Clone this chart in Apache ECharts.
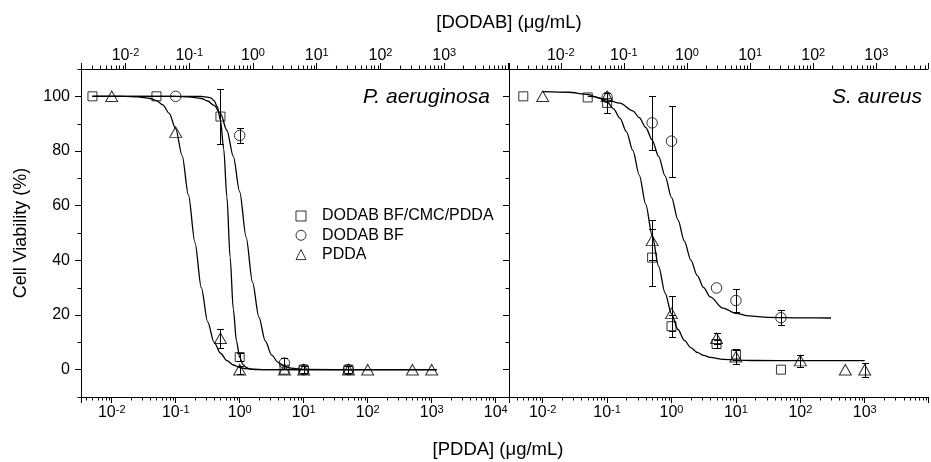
<!DOCTYPE html>
<html>
<head>
<meta charset="utf-8">
<script src="https://cdn.jsdelivr.net/npm/echarts@6/dist/echarts.min.js"></script>
<style>
  html, body { margin: 0; padding: 0; background: #fff; }
  #chart { width: 931px; height: 462px; }
</style>
</head>
<body>
<div id="chart"></div>
<script>
// ---------------- Data (concentrations in µg/mL of PDDA, viability in %) ----------------
// P. aeruginosa
const paMixX   = [0.005, 0.05, 0.5, 1, 5, 10, 50];
const paMixY   = [100, 100, 92.6, 4.6, 0, 0, 0];
const paMixErr = [0, 0, 10, 1.5, 0, 0, 0];

const paBfX   = [0.1, 1, 5, 10, 50];
const paBfY   = [100, 85.7, 2.4, 0, 0];
const paBfErr = [0, 2.7, 2, 0, 0];

const paPddaX   = [0.01, 0.1, 0.5, 1, 5, 10, 50, 100, 500, 1000];
const paPddaY   = [100, 86.9, 11.5, 0, 0, 0, 0, 0, 0, 0];
const paPddaErr = [0, 0, 3.5, 1.5, 0, 1.2, 1.2, 0, 0, 0];

// S. aureus
const saMixX   = [0.005, 0.05, 0.1, 0.5, 1, 5, 10, 50];
const saMixY   = [100, 99.6, 97.6, 41.0, 15.9, 9.4, 5.6, 0];
const saMixErr = [0, 0, 3.6, 10.5, 4.1, 1.5, 2, 0];

const saBfX   = [0.1, 0.5, 1, 5, 10, 50];
const saBfY   = [99.6, 90.3, 83.6, 29.9, 25.3, 19.0];
const saBfErr = [0, 10, 13, 0, 4.2, 2.7];

const saPddaX   = [0.01, 0.1, 0.5, 1, 5, 10, 100, 500, 1000];
const saPddaY   = [100, 100, 47.3, 20.6, 11.5, 4.7, 3.3, 0, 0];
const saPddaErr = [0, 0, 7.3, 6.3, 2, 2.6, 2.2, 0, 2.5];

// Dose-response fit curves
const paFitMixX = [0.005, 0.05, 0.158, 0.251, 0.316, 0.355, 0.398, 0.447, 0.501, 0.562, 0.631, 0.708, 0.794, 0.891, 1, 1.122, 1.259, 1.413, 1.585, 2, 10, 100, 1200];
const paFitMixY = [100, 100, 100, 99.95, 99.7, 99.4, 98.4, 96.2, 91.2, 80.8, 63.2, 41.1, 22.1, 10.4, 4.5, 1.9, 0.8, 0.3, 0.1, 0, 0, 0, 0];

const paFitBfX = [0.005, 0.05, 0.1, 0.158, 0.251, 0.316, 0.398, 0.501, 0.631, 0.794, 1, 1.259, 1.585, 1.995, 2.512, 3.162, 3.981, 5.012, 6.31, 7.943, 10, 100, 1200];
const paFitBfY = [100, 100, 99.95, 99.8, 99.2, 98.3, 96.7, 93.7, 87.5, 78, 65, 48.5, 32, 19.2, 10.5, 5.3, 2.7, 1.3, 0.6, 0.3, 0.1, 0, 0];

const paFitPddaX = [0.005, 0.01, 0.016, 0.025, 0.04, 0.05, 0.063, 0.079, 0.1, 0.126, 0.158, 0.2, 0.251, 0.316, 0.398, 0.501, 0.631, 0.794, 1, 1.26, 1.58, 2.51, 10, 100, 1200];
const paFitPddaY = [100, 100, 99.96, 99.8, 99.2, 98.4, 96.9, 93.8, 88.1, 78.3, 63.9, 46.5, 30, 17.5, 10, 6, 3.3, 1.7, 0.8, 0.4, 0.2, 0, 0, 0, 0];

const saFitLowX = [0.01, 0.025, 0.05, 0.079, 0.1, 0.126, 0.158, 0.2, 0.251, 0.316, 0.398, 0.501, 0.631, 0.794, 1, 1.259, 1.585, 1.995, 2.512, 3.162, 3.981, 6.31, 10, 20, 100, 1000];
const saFitLowY = [101.7, 101.5, 100.7, 99.2, 97.9, 95.4, 92, 87, 80.2, 71.2, 60.5, 49.1, 37.8, 28.1, 20.4, 14.7, 10.7, 8.1, 6.3, 5.2, 4.5, 3.8, 3.5, 3.35, 3.3, 3.3];

const saFitHighX = [0.05, 0.063, 0.1, 0.158, 0.251, 0.316, 0.398, 0.501, 0.631, 0.794, 1, 1.259, 1.585, 1.995, 2.512, 3.162, 3.981, 6.31, 10, 15.85, 31.6, 100, 300];
const saFitHighY = [100.1, 99.9, 98.7, 97.5, 94.7, 92.2, 88.6, 84, 78, 70.9, 63, 54.8, 47, 40.1, 34.4, 30, 26.6, 22.5, 20.6, 19.7, 19.1, 18.93, 18.9];

// Axis text
const seriesNames = ['DODAB BF/CMC/PDDA', 'DODAB BF', 'PDDA'];
const yTickLabels = [0, 20, 40, 60, 80, 100];
const topTitle = '[DODAB] (\u03bcg/mL)';
const bottomTitle = '[PDDA] (\u03bcg/mL)';
const yTitle = 'Cell Viability (%)';
const panelTitles = ['P. aeruginosa', 'S. aureus'];

// ---------------- Chart ----------------
const FONT = '"Liberation Sans", Arial, sans-serif';
const zip = (xs, ys) => xs.map((x, i) => [x, ys[i]]);

// log10 extents of the four x axes (bottom/top for each panel)
const ext = {
  leftBottom:  [-2.480, 4.208],
  leftTop:     [-2.698, 4.016],
  rightBottom: [-2.523, 3.982],
  rightTop:    [-2.820, 3.819]
};

function powLabel(maxExp) {
  return function (value) {
    const e = Math.log10(value);
    const r = Math.round(e);
    if (Math.abs(e - r) > 1e-6 || r > maxExp) return '';
    return '{b|10}{s|' + r + '}';
  };
}

const richPow = {
  b: { fontSize: 16, fontFamily: FONT, color: '#000', lineHeight: 17 },
  s: { fontSize: 11, fontFamily: FONT, color: '#000', lineHeight: 9, verticalAlign: 'top' }
};

function logAxis(gridIndex, position, e, maxExp) {
  return {
    gridIndex, type: 'log', logBase: 10, position,
    min: Math.pow(10, e[0]), max: Math.pow(10, e[1]),
    axisLine: { show: true, onZero: false, lineStyle: { color: '#000', width: 1 } },
    axisTick: { show: true, length: 6, inside: false, lineStyle: { color: '#000', width: 1 } },
    axisLabel: {
      show: true, margin: position === 'top' ? 5 : 7,
      fontSize: 16, fontFamily: FONT, color: '#000',
      formatter: powLabel(maxExp), rich: richPow,
      showMinLabel: true, showMaxLabel: true
    },
    splitLine: { show: false },
    minorTick: { show: false }
  };
}

function yAxis(gridIndex, showLabels) {
  return {
    gridIndex, type: 'value', min: -10, max: 110, interval: 10,
    axisLine: { show: true, onZero: false, lineStyle: { color: '#000', width: 1 } },
    axisTick: { show: true, length: 6, customValues: yTickLabels, lineStyle: { color: '#000', width: 1 } },
    axisLabel: {
      show: showLabels, margin: 11, fontSize: 16, fontFamily: FONT, color: '#000',
      customValues: yTickLabels,
      formatter: v => (yTickLabels.indexOf(v) >= 0 ? String(v) : '')
    },
    splitLine: { show: false }
  };
}

function decadeMinors(e) {
  const out = [];
  for (let k = Math.floor(e[0]); k <= Math.ceil(e[1]); k++) {
    for (let m = 2; m <= 9; m++) {
      const v = m * Math.pow(10, k);
      const lv = Math.log10(v);
      if (lv > e[0] && lv < e[1]) out.push(v);
    }
  }
  return out;
}

// minor ticks along an x axis, drawn outward from the axis line
function xMinorTicks(xAxisIndex, yAxisIndex, values, yEdge, dir) {
  return {
    type: 'custom', xAxisIndex, yAxisIndex, silent: true, clip: false, z: 3,
    data: values.map(v => [v, yEdge]),
    encode: { x: 0, y: 1 },
    renderItem: (params, api) => {
      const p = api.coord([api.value(0), api.value(1)]);
      const x = Math.round(p[0]) + 0.5;
      const y0 = Math.round(p[1]);
      return { type: 'line', shape: { x1: x, y1: y0, x2: x, y2: y0 + dir * 3.5 },
               style: { stroke: '#000', lineWidth: 1 } };
    }
  };
}

// minor ticks along a y axis (between labelled values), pointing left
function yMinorTicks(xAxisIndex, yAxisIndex, xEdge, values) {
  return {
    type: 'custom', xAxisIndex, yAxisIndex, silent: true, clip: false, z: 3,
    data: values.map(v => [xEdge, v]),
    encode: { x: 0, y: 1 },
    renderItem: (params, api) => {
      const p = api.coord([api.value(0), api.value(1)]);
      const y = Math.round(p[1]) + 0.5;
      const x0 = Math.round(p[0]);
      return { type: 'line', shape: { x1: x0, y1: y, x2: x0 - 3.5, y2: y },
               style: { stroke: '#000', lineWidth: 1 } };
    }
  };
}

function errorBars(xAxisIndex, yAxisIndex, xs, ys, errs) {
  const data = [];
  xs.forEach((x, i) => { if (errs[i] > 0) data.push([x, ys[i] - errs[i], ys[i] + errs[i]]); });
  return {
    type: 'custom', xAxisIndex, yAxisIndex, silent: true, clip: false, z: 4,
    data, encode: { x: 0, y: [1, 2] },
    renderItem: (params, api) => {
      const lo = api.coord([api.value(0), api.value(1)]);
      const hi = api.coord([api.value(0), api.value(2)]);
      const x = Math.round(lo[0]) + 0.5;
      const yl = Math.round(lo[1]) + 0.5, yh = Math.round(hi[1]) + 0.5;
      const st = { stroke: '#000', lineWidth: 1 };
      return { type: 'group', children: [
        { type: 'line', shape: { x1: x, y1: yl, x2: x, y2: yh }, style: st },
        { type: 'line', shape: { x1: x - 3.5, y1: yl, x2: x + 3.5, y2: yl }, style: st },
        { type: 'line', shape: { x1: x - 3.5, y1: yh, x2: x + 3.5, y2: yh }, style: st }
      ] };
    }
  };
}

const markerStyle = { color: 'rgba(0,0,0,0)', borderColor: '#000', borderWidth: 1 };
const symbols = { 'DODAB BF/CMC/PDDA': ['rect', 9], 'DODAB BF': ['circle', 10.5], 'PDDA': ['triangle', [12, 10.5]] };

function markers(name, xAxisIndex, yAxisIndex, xs, ys) {
  return {
    type: 'scatter', name, xAxisIndex, yAxisIndex, data: zip(xs, ys),
    symbol: symbols[name][0], symbolSize: symbols[name][1],
    itemStyle: markerStyle, z: 5, silent: true,
    emphasis: { disabled: true }
  };
}

function fitLine(xAxisIndex, yAxisIndex, xs, ys) {
  return {
    type: 'line', xAxisIndex, yAxisIndex, data: zip(xs, ys),
    showSymbol: false, symbol: 'none', smooth: 0.3, smoothMonotone: 'x',
    lineStyle: { color: '#000', width: 1.3 }, silent: true, z: 4,
    emphasis: { disabled: true }
  };
}

const chart = echarts.init(document.getElementById('chart'), null, { renderer: 'canvas' });

const option = {
  animation: false,
  backgroundColor: '#fff',
  textStyle: { fontFamily: FONT, color: '#000' },
  grid: [
    { left: 81, top: 69, width: 428, height: 328 },
    { left: 509, top: 69, width: 428, height: 328 }
  ],
  xAxis: [
    logAxis(0, 'bottom', ext.leftBottom, 4),
    logAxis(0, 'top', ext.leftTop, 3),
    logAxis(1, 'bottom', ext.rightBottom, 3),
    logAxis(1, 'top', ext.rightTop, 3)
  ],
  yAxis: [yAxis(0, true), yAxis(1, false)],
  legend: {
    orient: 'vertical', left: 295.5, top: 208, padding: 0,
    itemWidth: 10, itemHeight: 10, itemGap: 3.3,
    itemStyle: { color: 'rgba(0,0,0,0)', borderColor: '#000', borderWidth: 1 },
    textStyle: { fontSize: 16, fontFamily: FONT, color: '#000', padding: [0, 0, 0, 11] },
    selectedMode: false,
    data: [
      { name: seriesNames[0], icon: 'rect' },
      { name: seriesNames[1], icon: 'circle' },
      { name: seriesNames[2], icon: 'triangle' }
    ]
  },
  graphic: [
    { type: 'text', x: 509, y: 22.5, silent: true,
      style: { text: topTitle, font: '18.5px ' + FONT, fill: '#000', align: 'center', verticalAlign: 'middle' } },
    { type: 'text', x: 498, y: 450, silent: true,
      style: { text: bottomTitle, font: '18.5px ' + FONT, fill: '#000', align: 'center', verticalAlign: 'middle' } },
    { type: 'text', x: 21, y: 233, rotation: Math.PI / 2, silent: true,
      style: { text: yTitle, font: '18px ' + FONT, fill: '#000', align: 'center', verticalAlign: 'middle' } },
    { type: 'text', x: 363, y: 97, silent: true,
      style: { text: panelTitles[0], font: 'italic 21px ' + FONT, fill: '#000', align: 'left', verticalAlign: 'middle' } },
    { type: 'text', x: 832, y: 97, silent: true,
      style: { text: panelTitles[1], font: 'italic 21px ' + FONT, fill: '#000', align: 'left', verticalAlign: 'middle' } }
  ],
  series: [
    // axis minor ticks
    xMinorTicks(0, 0, decadeMinors(ext.leftBottom), -10, 1),
    xMinorTicks(1, 0, decadeMinors(ext.leftTop), 110, -1),
    xMinorTicks(2, 1, decadeMinors(ext.rightBottom), -10, 1),
    xMinorTicks(3, 1, decadeMinors(ext.rightTop), 110, -1),
    yMinorTicks(0, 0, Math.pow(10, ext.leftBottom[0]), [-10, 10, 30, 50, 70, 90, 110]),
    yMinorTicks(2, 1, Math.pow(10, ext.rightBottom[0]), [-10, 10, 30, 50, 70, 90, 110]),

    // P. aeruginosa panel
    fitLine(0, 0, paFitMixX, paFitMixY),
    fitLine(0, 0, paFitBfX, paFitBfY),
    fitLine(0, 0, paFitPddaX, paFitPddaY),
    errorBars(0, 0, paMixX, paMixY, paMixErr),
    errorBars(0, 0, paBfX, paBfY, paBfErr),
    errorBars(0, 0, paPddaX, paPddaY, paPddaErr),
    markers(seriesNames[0], 0, 0, paMixX, paMixY),
    markers(seriesNames[1], 0, 0, paBfX, paBfY),
    markers(seriesNames[2], 0, 0, paPddaX, paPddaY),

    // S. aureus panel
    fitLine(2, 1, saFitLowX, saFitLowY),
    fitLine(2, 1, saFitHighX, saFitHighY),
    errorBars(2, 1, saMixX, saMixY, saMixErr),
    errorBars(2, 1, saBfX, saBfY, saBfErr),
    errorBars(2, 1, saPddaX, saPddaY, saPddaErr),
    markers(seriesNames[0], 2, 1, saMixX, saMixY),
    markers(seriesNames[1], 2, 1, saBfX, saBfY),
    markers(seriesNames[2], 2, 1, saPddaX, saPddaY)
  ]
};

chart.setOption(option);
</script>
</body>
</html>
